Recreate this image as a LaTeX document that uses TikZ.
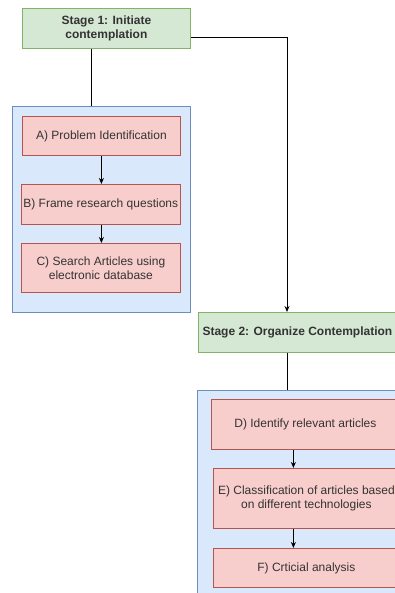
\documentclass[tikz,border=0pt]{standalone}
\usepackage{fontspec}
\setmainfont{Liberation Sans}
\usetikzlibrary{arrows.meta,calc,positioning}
\definecolor{stagefill}{HTML}{D5E8D4}
\definecolor{stageline}{HTML}{82B366}
\definecolor{stepfill}{HTML}{F8CECC}
\definecolor{stepline}{HTML}{B85450}
\definecolor{grpfill}{HTML}{DAE8FC}
\definecolor{grpline}{HTML}{6C8EBF}

\begin{document}
\begin{tikzpicture}[x=1pt,y=-1pt,font=\fontsize{12}{14}\selectfont,text=black!80,
  >={Stealth[length=6pt,width=5pt]},line width=0.8pt,
  stagebox/.style={draw=stageline,fill=stagefill,font=\fontsize{12}{14}\selectfont\bfseries,align=center,anchor=north west,inner sep=2pt},
  grpbox/.style={draw=grpline,fill=grpfill,anchor=north west},
  stepbox/.style={draw=stepline,fill=stepfill,align=center,anchor=north west,inner sep=2pt}]
  \useasboundingbox (0,0) rectangle (395,593);
  \clip (0,0) rectangle (395,593);
  % stage 1 and its steps
  \node[stagebox,minimum width=168pt,minimum height=40pt] (s1) at (22,8) {Stage 1: Initiate\\ contemplation};
  \node[grpbox,minimum width=178pt,minimum height=206pt] (g1) at (12,106) {};
  \node[stepbox,minimum width=158pt,minimum height=39pt] (a) at (22,116) {A) Problem Identification};
  \node[stepbox,minimum width=158pt,minimum height=40pt] (b) at (21,184) {B) Frame research questions};
  \node[stepbox,minimum width=159pt,minimum height=49pt] (c) at (21,243) {C) Search Articles using\\ electronic database};
  % stage 2 and its steps
  \node[stagebox,minimum width=198pt,minimum height=40pt] (s2) at (198,312) {Stage 2: Organize Contemplation};
  \node[grpbox,minimum width=200pt,minimum height=210pt] (g2) at (197,390) {};
  \node[stepbox,minimum width=188pt,minimum height=50pt] (d) at (211,399) {D) Identify relevant articles};
  \node[stepbox,minimum width=186pt,minimum height=60pt] (e) at (213,468) {E) Classification of articles based\\ on different technologies};
  \node[stepbox,minimum width=186pt,minimum height=39pt] (f) at (213,548) {F) Crticial analysis};
  % connectors
  \draw ($(s1.south)+(-15,0)$) coordinate (t1) -- (t1 |- g1.north);
  \draw[->] ($(s1.east)+(0,9)$) -| (s2.north -| 287,0);
  \draw ($(s2.south)+(-10,0)$) coordinate (t2) -- (t2 |- g2.north);
  \draw[->] (a.south) -- (a.south |- b.north);
  \draw[->] (a.south |- b.south) -- (a.south |- c.north);
  \draw[->] ($(d.south)+(-12,0)$) coordinate (t3) -- (t3 |- e.north);
  \draw[->] (t3 |- e.south) -- (t3 |- f.north);
\end{tikzpicture}
\end{document}
